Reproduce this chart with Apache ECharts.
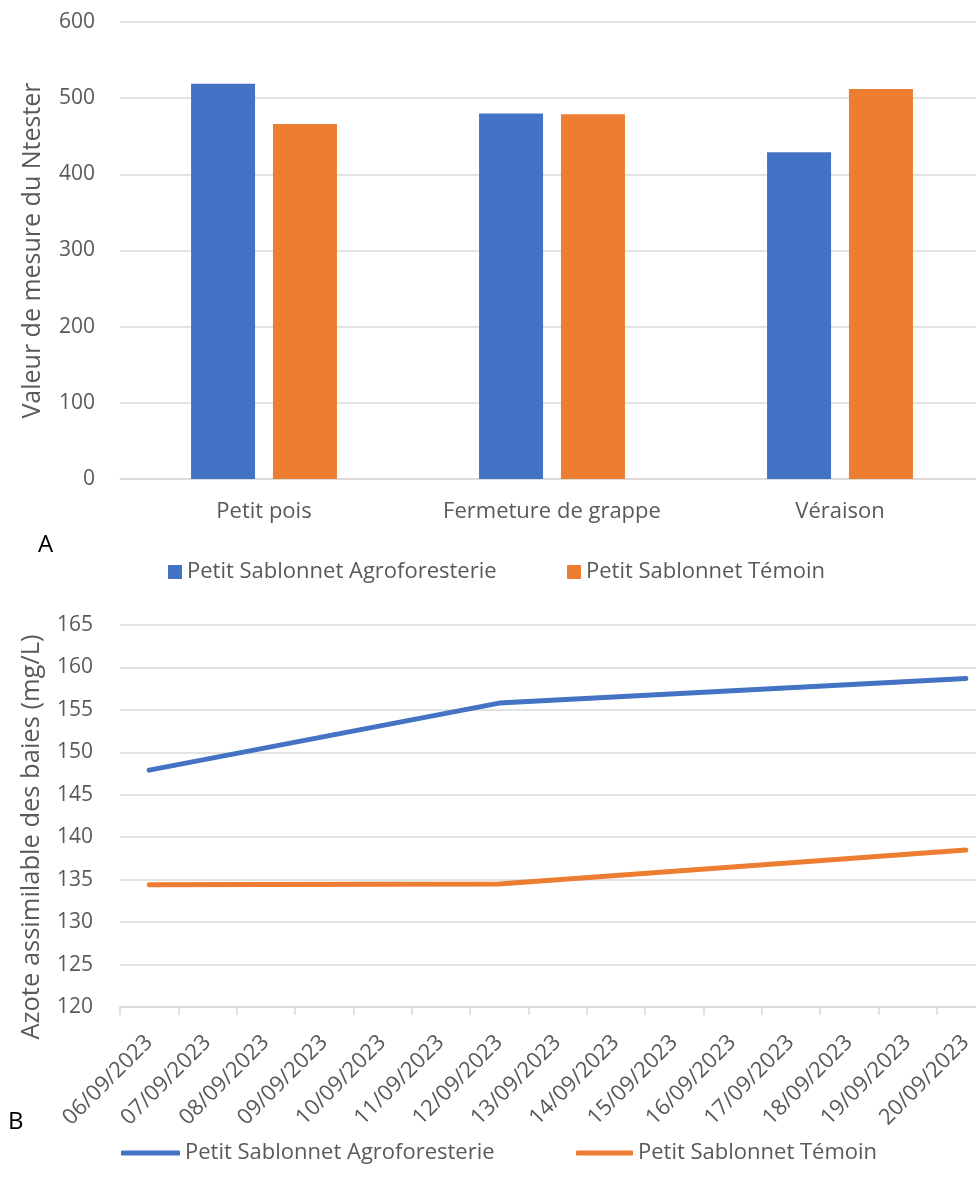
<!DOCTYPE html>
<html><head><meta charset="utf-8">
<script src="https://cdn.jsdelivr.net/npm/echarts@6/dist/echarts.min.js"></script>
<style>html,body{margin:0;padding:0;background:#fff;overflow:hidden}#c{width:1000px;height:1193px}</style>
</head><body><div id="c"></div>
<script>
const stages = ['Petit pois', 'Fermeture de grappe', 'Véraison'];
const nAgro = [519, 480, 429];
const nTemoin = [466, 479, 512];
const nTicks = [0, 100, 200, 300, 400, 500, 600];

const dates = ['06/09/2023','07/09/2023','08/09/2023','09/09/2023','10/09/2023','11/09/2023','12/09/2023','13/09/2023','14/09/2023','15/09/2023','16/09/2023','17/09/2023','18/09/2023','19/09/2023','20/09/2023'];
const azoteAgro = [147.9, null, null, null, null, null, 155.8, null, null, null, null, null, null, null, 158.7];
const azoteTemoin = [134.4, null, null, null, null, null, 134.5, null, null, null, null, null, null, null, 138.5];
const azoteTicks = [120, 125, 130, 135, 140, 145, 150, 155, 160, 165];

const S1 = 'Petit Sablonnet Agroforesterie';
const S2 = 'Petit Sablonnet Témoin';
const BLUE = '#4472C4', ORANGE = '#ED7D31', TXT = '#595959', GRID = '#D9D9D9';
const FONT = 'Open Sans';

const chart = echarts.init(document.getElementById('c'), null, {renderer: 'canvas'});
const legText = {color: TXT, fontSize: 22, fontFamily: FONT};
chart.setOption({
  backgroundColor: '#fff',
  animation: false,
  textStyle: {fontFamily: FONT},
  graphic: [
    {type: 'text', left: 38, top: 533, style: {text: 'A', fontSize: 24, fill: '#000', fontFamily: FONT}},
    {type: 'text', left: 8, top: 1110, style: {text: 'B', fontSize: 24, fill: '#000', fontFamily: FONT}}
  ],
  legend: [
    {left: 168, top: 561, padding: 0, data: [S1], icon: 'rect', itemWidth: 14, itemHeight: 14, textStyle: legText, selectedMode: false},
    {left: 567, top: 561, padding: 0, data: [S2], icon: 'rect', itemWidth: 14, itemHeight: 14, textStyle: legText, selectedMode: false},
    {left: 121, top: 1142, padding: 0, data: [S1 + ' '], icon: 'roundRect', itemWidth: 59, itemHeight: 5, textStyle: legText, selectedMode: false, formatter: n => n.trim()},
    {left: 576, top: 1142, padding: 0, data: [S2 + ' '], icon: 'roundRect', itemWidth: 57, itemHeight: 5, textStyle: legText, selectedMode: false, formatter: n => n.trim()}
  ],
  grid: [
    {left: 120, top: 22, width: 864, height: 457, outerBoundsMode: 'none'},
    {left: 120, top: 625, width: 875, height: 382, outerBoundsMode: 'none'}
  ],
  xAxis: [
    {type: 'category', gridIndex: 0, data: stages,
     axisLine: {lineStyle: {color: GRID, width: 1.5}}, axisTick: {show: false},
     axisLabel: {color: TXT, fontSize: 22, margin: 22, fontFamily: FONT}},
    {type: 'category', gridIndex: 1, data: dates, boundaryGap: true,
     axisLine: {lineStyle: {color: GRID, width: 1.5}},
     axisTick: {show: true, length: 8, lineStyle: {color: GRID, width: 1.5}},
     axisLabel: {color: TXT, fontSize: 22, rotate: 45, margin: 32, interval: 0, fontFamily: FONT}}
  ],
  yAxis: [
    {type: 'value', gridIndex: 0, min: nTicks[0], max: nTicks[nTicks.length - 1], interval: 100,
     name: 'Valeur de mesure du Ntester', nameLocation: 'middle', nameGap: 75, nameRotate: 90,
     nameTextStyle: {color: TXT, fontSize: 25, fontFamily: FONT},
     axisLine: {show: false}, axisTick: {show: false},
     axisLabel: {color: TXT, fontSize: 21, margin: 25, fontFamily: FONT},
     splitLine: {lineStyle: {color: GRID, width: 1.5}}},
    {type: 'value', gridIndex: 1, min: azoteTicks[0], max: azoteTicks[azoteTicks.length - 1], interval: 5,
     name: 'Azote assimilable des baies (mg/L)', nameLocation: 'middle', nameGap: 75, nameRotate: 90,
     nameTextStyle: {color: TXT, fontSize: 25.5, fontFamily: FONT, padding: [0, 42, 0, 0]},
     axisLine: {show: false}, axisTick: {show: false},
     axisLabel: {color: TXT, fontSize: 21, margin: 27, fontFamily: FONT},
     splitLine: {lineStyle: {color: GRID, width: 1.5}}}
  ],
  series: [
    {name: S1, type: 'bar', xAxisIndex: 0, yAxisIndex: 0, data: nAgro, itemStyle: {color: BLUE}, barWidth: 64, barGap: '28%'},
    {name: S2, type: 'bar', xAxisIndex: 0, yAxisIndex: 0, data: nTemoin, itemStyle: {color: ORANGE}, barWidth: 64},
    {name: S1 + ' ', type: 'line', xAxisIndex: 1, yAxisIndex: 1, data: azoteAgro, connectNulls: true, showSymbol: false, symbol: 'none',
     itemStyle: {color: BLUE}, lineStyle: {color: BLUE, width: 5, cap: 'round', join: 'round'}},
    {name: S2 + ' ', type: 'line', xAxisIndex: 1, yAxisIndex: 1, data: azoteTemoin, connectNulls: true, showSymbol: false, symbol: 'none',
     itemStyle: {color: ORANGE}, lineStyle: {color: ORANGE, width: 5, cap: 'round', join: 'round'}}
  ]
});
</script></body></html>
